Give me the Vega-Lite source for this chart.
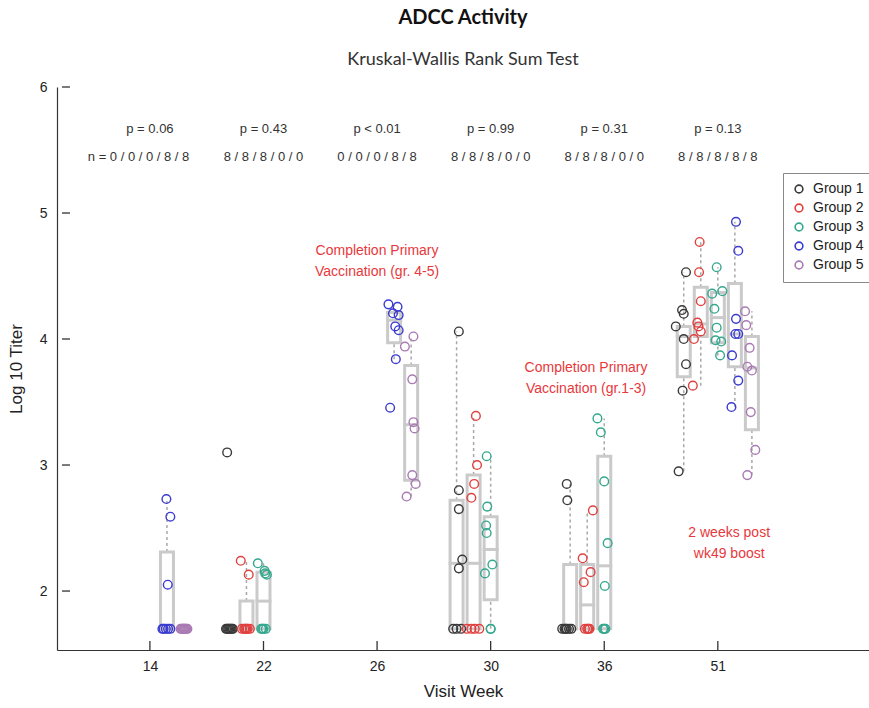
{
  "$schema": "https://vega.github.io/schema/vega-lite/v6.json",
  "width": 812,
  "height": 563,
  "autosize": {"type": "none"},
  "padding": {"left": 57, "top": 87, "right": 0, "bottom": 58},
  "background": "white",
  "config": {"view": {"stroke": null}},
  "title": {
    "text": "ADCC Activity",
    "subtitle": "Kruskal-Wallis Rank Sum Test",
    "anchor": "middle",
    "font": "Lato",
    "fontSize": 20,
    "fontWeight": "bold",
    "color": "#111",
    "subtitleFont": "Lato",
    "subtitleFontSize": 18,
    "subtitleColor": "#333",
    "subtitlePadding": 23,
    "offset": 11
  },
  "datasets": {
    "points": [
      {"g": "Group 4", "x": 1.145, "y": 2.73}, {"g": "Group 4", "x": 1.18, "y": 2.59}, {"g": "Group 4", "x": 1.157, "y": 2.05},
      {"g": "Group 4", "x": 1.11, "y": 1.70}, {"g": "Group 4", "x": 1.12, "y": 1.70}, {"g": "Group 4", "x": 1.14, "y": 1.70}, {"g": "Group 4", "x": 1.16, "y": 1.70}, {"g": "Group 4", "x": 1.18, "y": 1.70},
      {"g": "Group 5", "x": 1.27, "y": 1.70}, {"g": "Group 5", "x": 1.28, "y": 1.70}, {"g": "Group 5", "x": 1.29, "y": 1.70}, {"g": "Group 5", "x": 1.30, "y": 1.70},
      {"g": "Group 5", "x": 1.31, "y": 1.70}, {"g": "Group 5", "x": 1.32, "y": 1.70}, {"g": "Group 5", "x": 1.33, "y": 1.70}, {"g": "Group 5", "x": 1.30, "y": 1.70},

      {"g": "Group 1", "x": 1.68, "y": 3.10}, {"g": "Group 1", "x": 1.67, "y": 1.70}, {"g": "Group 1", "x": 1.68, "y": 1.70}, {"g": "Group 1", "x": 1.69, "y": 1.70},
      {"g": "Group 1", "x": 1.70, "y": 1.70}, {"g": "Group 1", "x": 1.71, "y": 1.70}, {"g": "Group 1", "x": 1.72, "y": 1.70}, {"g": "Group 1", "x": 1.73, "y": 1.70},
      {"g": "Group 2", "x": 1.80, "y": 2.24}, {"g": "Group 2", "x": 1.87, "y": 2.13}, {"g": "Group 2", "x": 1.81, "y": 1.70}, {"g": "Group 2", "x": 1.83, "y": 1.70},
      {"g": "Group 2", "x": 1.84, "y": 1.70}, {"g": "Group 2", "x": 1.85, "y": 1.70}, {"g": "Group 2", "x": 1.86, "y": 1.70}, {"g": "Group 2", "x": 1.88, "y": 1.70},
      {"g": "Group 3", "x": 1.95, "y": 2.22}, {"g": "Group 3", "x": 2.01, "y": 2.16}, {"g": "Group 3", "x": 2.03, "y": 2.13}, {"g": "Group 3", "x": 2.015, "y": 2.14},
      {"g": "Group 3", "x": 1.98, "y": 1.70}, {"g": "Group 3", "x": 1.99, "y": 1.70}, {"g": "Group 3", "x": 2.0, "y": 1.70}, {"g": "Group 3", "x": 2.02, "y": 1.70},

      {"g": "Group 4", "x": 3.10, "y": 4.275}, {"g": "Group 4", "x": 3.18, "y": 4.256}, {"g": "Group 4", "x": 3.14, "y": 4.204}, {"g": "Group 4", "x": 3.19, "y": 4.19},
      {"g": "Group 4", "x": 3.16, "y": 4.10}, {"g": "Group 4", "x": 3.19, "y": 4.07}, {"g": "Group 4", "x": 3.165, "y": 3.84}, {"g": "Group 4", "x": 3.115, "y": 3.455},
      {"g": "Group 5", "x": 3.32, "y": 4.02}, {"g": "Group 5", "x": 3.245, "y": 3.94}, {"g": "Group 5", "x": 3.31, "y": 3.68}, {"g": "Group 5", "x": 3.32, "y": 3.34},
      {"g": "Group 5", "x": 3.33, "y": 3.29}, {"g": "Group 5", "x": 3.31, "y": 2.92}, {"g": "Group 5", "x": 3.34, "y": 2.85}, {"g": "Group 5", "x": 3.26, "y": 2.75},

      {"g": "Group 1", "x": 3.72, "y": 4.06}, {"g": "Group 1", "x": 3.72, "y": 2.80}, {"g": "Group 1", "x": 3.72, "y": 2.65}, {"g": "Group 1", "x": 3.75, "y": 2.25},
      {"g": "Group 1", "x": 3.72, "y": 2.18}, {"g": "Group 1", "x": 3.67, "y": 1.70}, {"g": "Group 1", "x": 3.70, "y": 1.70}, {"g": "Group 1", "x": 3.74, "y": 1.70},
      {"g": "Group 2", "x": 3.87, "y": 3.39}, {"g": "Group 2", "x": 3.88, "y": 3.00}, {"g": "Group 2", "x": 3.855, "y": 2.85}, {"g": "Group 2", "x": 3.83, "y": 2.74},
      {"g": "Group 2", "x": 3.79, "y": 1.70}, {"g": "Group 2", "x": 3.83, "y": 1.70}, {"g": "Group 2", "x": 3.86, "y": 1.70}, {"g": "Group 2", "x": 3.90, "y": 1.70},
      {"g": "Group 3", "x": 3.965, "y": 3.07}, {"g": "Group 3", "x": 3.97, "y": 2.67}, {"g": "Group 3", "x": 3.96, "y": 2.52}, {"g": "Group 3", "x": 3.965, "y": 2.46},
      {"g": "Group 3", "x": 4.015, "y": 2.21}, {"g": "Group 3", "x": 3.95, "y": 2.14}, {"g": "Group 3", "x": 4.0, "y": 1.70}, {"g": "Group 3", "x": 4.0, "y": 1.70},

      {"g": "Group 1", "x": 4.67, "y": 2.85}, {"g": "Group 1", "x": 4.675, "y": 2.72}, {"g": "Group 1", "x": 4.63, "y": 1.70}, {"g": "Group 1", "x": 4.65, "y": 1.70},
      {"g": "Group 1", "x": 4.66, "y": 1.70}, {"g": "Group 1", "x": 4.67, "y": 1.70}, {"g": "Group 1", "x": 4.69, "y": 1.70}, {"g": "Group 1", "x": 4.71, "y": 1.70},
      {"g": "Group 2", "x": 4.90, "y": 2.64}, {"g": "Group 2", "x": 4.81, "y": 2.26}, {"g": "Group 2", "x": 4.88, "y": 2.15}, {"g": "Group 2", "x": 4.82, "y": 2.07},
      {"g": "Group 2", "x": 4.83, "y": 1.70}, {"g": "Group 2", "x": 4.85, "y": 1.70}, {"g": "Group 2", "x": 4.86, "y": 1.70}, {"g": "Group 2", "x": 4.87, "y": 1.70},
      {"g": "Group 3", "x": 4.94, "y": 3.37}, {"g": "Group 3", "x": 4.97, "y": 3.26}, {"g": "Group 3", "x": 5.0, "y": 2.87}, {"g": "Group 3", "x": 5.03, "y": 2.38},
      {"g": "Group 3", "x": 5.005, "y": 2.04}, {"g": "Group 3", "x": 4.99, "y": 1.70}, {"g": "Group 3", "x": 5.0, "y": 1.70}, {"g": "Group 3", "x": 5.01, "y": 1.70},

      {"g": "Group 1", "x": 5.72, "y": 4.53}, {"g": "Group 1", "x": 5.685, "y": 4.23}, {"g": "Group 1", "x": 5.70, "y": 4.20}, {"g": "Group 1", "x": 5.63, "y": 4.10},
      {"g": "Group 1", "x": 5.70, "y": 4.00}, {"g": "Group 1", "x": 5.72, "y": 3.80}, {"g": "Group 1", "x": 5.69, "y": 3.59}, {"g": "Group 1", "x": 5.655, "y": 2.95},
      {"g": "Group 2", "x": 5.84, "y": 4.77}, {"g": "Group 2", "x": 5.835, "y": 4.53}, {"g": "Group 2", "x": 5.85, "y": 4.30}, {"g": "Group 2", "x": 5.82, "y": 4.13},
      {"g": "Group 2", "x": 5.83, "y": 4.10}, {"g": "Group 2", "x": 5.85, "y": 4.06}, {"g": "Group 2", "x": 5.79, "y": 4.00}, {"g": "Group 2", "x": 5.78, "y": 3.63},
      {"g": "Group 3", "x": 5.99, "y": 4.57}, {"g": "Group 3", "x": 5.95, "y": 4.36}, {"g": "Group 3", "x": 6.04, "y": 4.38}, {"g": "Group 3", "x": 5.97, "y": 4.24},
      {"g": "Group 3", "x": 5.99, "y": 4.09}, {"g": "Group 3", "x": 5.98, "y": 3.99}, {"g": "Group 3", "x": 6.03, "y": 3.98}, {"g": "Group 3", "x": 6.02, "y": 3.87},
      {"g": "Group 4", "x": 6.16, "y": 4.93}, {"g": "Group 4", "x": 6.18, "y": 4.70}, {"g": "Group 4", "x": 6.16, "y": 4.16}, {"g": "Group 4", "x": 6.18, "y": 4.04},
      {"g": "Group 4", "x": 6.155, "y": 4.04}, {"g": "Group 4", "x": 6.125, "y": 3.87}, {"g": "Group 4", "x": 6.18, "y": 3.67}, {"g": "Group 4", "x": 6.12, "y": 3.46},
      {"g": "Group 5", "x": 6.24, "y": 4.22}, {"g": "Group 5", "x": 6.25, "y": 4.11}, {"g": "Group 5", "x": 6.28, "y": 3.93}, {"g": "Group 5", "x": 6.26, "y": 3.78},
      {"g": "Group 5", "x": 6.30, "y": 3.75}, {"g": "Group 5", "x": 6.29, "y": 3.42}, {"g": "Group 5", "x": 6.33, "y": 3.12}, {"g": "Group 5", "x": 6.26, "y": 2.92}
    ],
    "boxes": [
      {"x": 1.15, "q1": 1.70, "med": 1.70, "q3": 2.31, "wlo": 1.70, "whi": 2.72},
      {"x": 1.30, "q1": 1.70, "med": 1.70, "q3": 1.70, "wlo": 1.70, "whi": 1.70},
      {"x": 1.70, "q1": 1.70, "med": 1.70, "q3": 1.70, "wlo": 1.70, "whi": 1.70},
      {"x": 1.85, "q1": 1.70, "med": 1.70, "q3": 1.92, "wlo": 1.70, "whi": 2.24},
      {"x": 2.00, "q1": 1.70, "med": 1.92, "q3": 2.15, "wlo": 1.70, "whi": 2.22},
      {"x": 3.15, "q1": 3.97, "med": 4.15, "q3": 4.21, "wlo": 3.84, "whi": 4.275},
      {"x": 3.30, "q1": 2.88, "med": 3.32, "q3": 3.79, "wlo": 2.75, "whi": 4.02},
      {"x": 3.70, "q1": 1.70, "med": 2.22, "q3": 2.72, "wlo": 1.70, "whi": 4.06},
      {"x": 3.85, "q1": 1.70, "med": 2.22, "q3": 2.92, "wlo": 1.70, "whi": 3.39},
      {"x": 4.00, "q1": 1.93, "med": 2.33, "q3": 2.59, "wlo": 1.70, "whi": 3.07},
      {"x": 4.70, "q1": 1.70, "med": 1.70, "q3": 2.21, "wlo": 1.70, "whi": 2.85},
      {"x": 4.85, "q1": 1.70, "med": 1.89, "q3": 2.21, "wlo": 1.70, "whi": 2.64},
      {"x": 5.00, "q1": 1.70, "med": 2.20, "q3": 3.07, "wlo": 1.70, "whi": 3.37},
      {"x": 5.70, "q1": 3.70, "med": 4.02, "q3": 4.10, "wlo": 2.95, "whi": 4.53},
      {"x": 5.85, "q1": 4.02, "med": 4.12, "q3": 4.41, "wlo": 3.63, "whi": 4.77},
      {"x": 6.00, "q1": 3.97, "med": 4.17, "q3": 4.37, "wlo": 3.87, "whi": 4.57},
      {"x": 6.15, "q1": 3.78, "med": 4.04, "q3": 4.44, "wlo": 3.46, "whi": 4.93},
      {"x": 6.30, "q1": 3.28, "med": 3.77, "q3": 4.02, "wlo": 2.92, "whi": 4.22}
    ],
    "stats": [
      {"x": 1.0, "y": 5.667, "label": "p = 0.06"},
      {"x": 2.0, "y": 5.667, "label": "p = 0.43"},
      {"x": 3.0, "y": 5.667, "label": "p < 0.01"},
      {"x": 4.0, "y": 5.667, "label": "p = 0.99"},
      {"x": 5.0, "y": 5.667, "label": "p = 0.31"},
      {"x": 6.0, "y": 5.667, "label": "p = 0.13"},
      {"x": 0.9, "y": 5.444, "label": "n = 0 / 0 / 0 / 8 / 8"},
      {"x": 2.0, "y": 5.444, "label": "8 / 8 / 8 / 0 / 0"},
      {"x": 3.0, "y": 5.444, "label": "0 / 0 / 0 / 8 / 8"},
      {"x": 4.0, "y": 5.444, "label": "8 / 8 / 8 / 0 / 0"},
      {"x": 5.0, "y": 5.444, "label": "8 / 8 / 8 / 0 / 0"},
      {"x": 6.0, "y": 5.444, "label": "8 / 8 / 8 / 8 / 8"}
    ],
    "notes": [
      {"x": 3.0, "y": 4.70, "label": ["Completion Primary", "Vaccination (gr. 4-5)"]},
      {"x": 4.84, "y": 3.77, "label": ["Completion Primary", "Vaccination (gr.1-3)"]},
      {"x": 6.10, "y": 2.46, "label": ["2 weeks post", "wk49 boost"]}
    ],
    "xticks": [
      {"x": 1, "y": 1.532}, {"x": 2, "y": 1.532}, {"x": 3, "y": 1.532},
      {"x": 4, "y": 1.532}, {"x": 5, "y": 1.532}, {"x": 6, "y": 1.532}
    ],
    "yticks": [
      {"x": 0.226, "y": 2}, {"x": 0.226, "y": 3}, {"x": 0.226, "y": 4},
      {"x": 0.226, "y": 5}, {"x": 0.226, "y": 6}
    ]
  },
  "layer": [
    {
      "data": {"name": "xticks"},
      "mark": {"type": "tick", "orient": "vertical", "size": 9, "thickness": 1.3, "color": "#333", "opacity": 1, "yOffset": -4.5},
      "encoding": {
        "x": {"field": "x", "type": "quantitative"},
        "y": {"field": "y", "type": "quantitative"}
      }
    },
    {
      "data": {"name": "yticks"},
      "mark": {"type": "tick", "orient": "horizontal", "size": 8, "thickness": 1.3, "color": "#333", "opacity": 1, "xOffset": 4},
      "encoding": {
        "x": {"field": "x", "type": "quantitative"},
        "y": {"field": "y", "type": "quantitative"}
      }
    },
    {
      "data": {"name": "boxes"},
      "mark": {"type": "rule", "color": "#a8a8a8", "strokeWidth": 1.5, "strokeDash": [3, 3]},
      "encoding": {
        "x": {"field": "x", "type": "quantitative"},
        "y": {"field": "q3", "type": "quantitative"},
        "y2": {"field": "whi"}
      }
    },
    {
      "data": {"name": "boxes"},
      "mark": {"type": "rule", "color": "#a8a8a8", "strokeWidth": 1.5, "strokeDash": [3, 3]},
      "encoding": {
        "x": {"field": "x", "type": "quantitative"},
        "y": {"field": "wlo", "type": "quantitative"},
        "y2": {"field": "q1"}
      }
    },
    {
      "data": {"name": "boxes"},
      "mark": {"type": "bar", "size": 13, "fill": "transparent", "stroke": "#cacaca", "strokeWidth": 3},
      "encoding": {
        "x": {"field": "x", "type": "quantitative"},
        "y": {"field": "q1", "type": "quantitative"},
        "y2": {"field": "q3"}
      }
    },
    {
      "data": {"name": "boxes"},
      "mark": {"type": "tick", "orient": "horizontal", "size": 16, "thickness": 3, "color": "#cacaca", "opacity": 1},
      "encoding": {
        "x": {"field": "x", "type": "quantitative"},
        "y": {"field": "med", "type": "quantitative"}
      }
    },
    {
      "data": {"name": "points"},
      "mark": {"type": "point", "shape": "circle", "filled": false, "size": 75, "strokeWidth": 1.4, "opacity": 1},
      "encoding": {
        "x": {
          "field": "x", "type": "quantitative",
          "scale": {"domain": [0.226, 7.287], "nice": false, "zero": false},
          "axis": {
            "title": "Visit Week",
            "values": [1, 2, 3, 4, 5, 6],
            "labelExpr": "['', '14', '22', '26', '30', '36', '51'][datum.value]",
            "grid": false,
            "ticks": false,
            "domainColor": "#333",
            "domainWidth": 1.2,
            "labelPadding": 9,
            "labelFont": "Liberation Sans",
            "labelFontSize": 14,
            "labelColor": "#222",
            "titleFont": "Liberation Sans",
            "titleFontSize": 17,
            "titleFontWeight": "normal",
            "titleColor": "#222",
            "titlePadding": 10
          }
        },
        "y": {
          "field": "y", "type": "quantitative",
          "scale": {"domain": [1.532, 6], "nice": false, "zero": false},
          "axis": {
            "title": "Log 10 Titer",
            "values": [2, 3, 4, 5, 6],
            "format": "d",
            "grid": false,
            "ticks": false,
            "domainColor": "#333",
            "domainWidth": 1.2,
            "labelPadding": 10,
            "labelFont": "Liberation Sans",
            "labelFontSize": 14,
            "labelColor": "#222",
            "titleFont": "Liberation Sans",
            "titleFontSize": 17,
            "titleFontWeight": "normal",
            "titleColor": "#222",
            "titlePadding": 14
          }
        },
        "color": {
          "field": "g", "type": "nominal",
          "scale": {
            "domain": ["Group 1", "Group 2", "Group 3", "Group 4", "Group 5"],
            "range": ["#3a3a3a", "#e0403f", "#34a88e", "#3a3ad0", "#a97ab3"]
          },
          "legend": {
            "title": null,
            "orient": "none",
            "legendX": 726,
            "legendY": 86,
            "strokeColor": "#888",
            "fillColor": "white",
            "padding": 9,
            "rowPadding": 3,
            "symbolType": "circle",
            "symbolSize": 60,
            "symbolStrokeWidth": 1.6,
            "labelFont": "Liberation Sans",
            "labelFontSize": 14,
            "labelColor": "#222",
            "labelOffset": 7
          }
        }
      }
    },
    {
      "data": {"name": "stats"},
      "mark": {"type": "text", "font": "Liberation Sans Narrow, Liberation Sans", "fontSize": 13, "color": "#333", "align": "center", "baseline": "middle"},
      "encoding": {
        "x": {"field": "x", "type": "quantitative"},
        "y": {"field": "y", "type": "quantitative"},
        "text": {"field": "label"}
      }
    },
    {
      "data": {"name": "notes"},
      "mark": {"type": "text", "font": "Liberation Sans", "fontSize": 14, "color": "#e8383c", "align": "center", "baseline": "middle", "lineHeight": 21},
      "encoding": {
        "x": {"field": "x", "type": "quantitative"},
        "y": {"field": "y", "type": "quantitative"},
        "text": {"field": "label"}
      }
    }
  ]
}
